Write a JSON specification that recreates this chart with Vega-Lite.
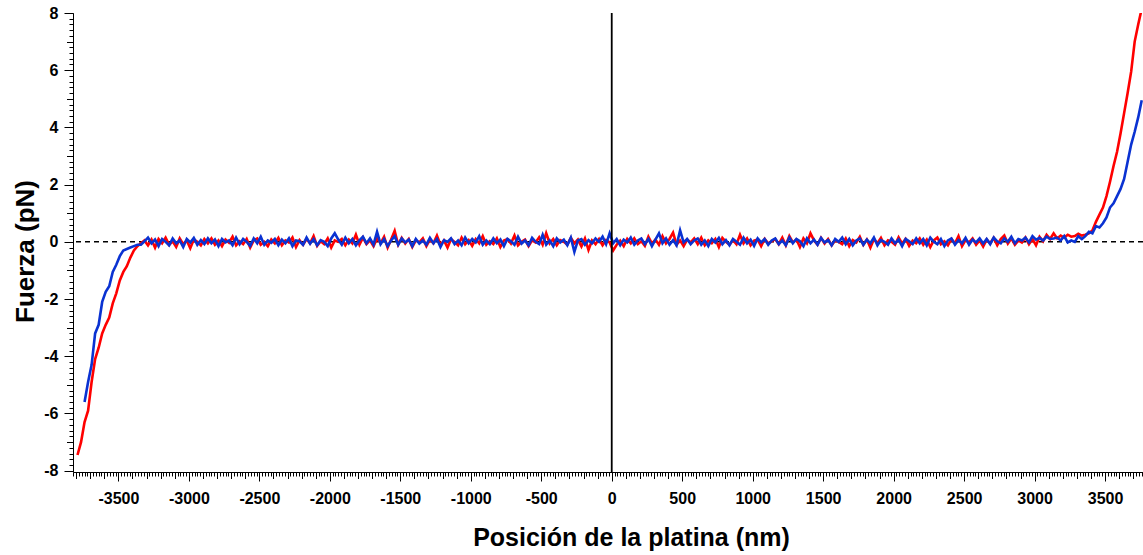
{
  "$schema": "https://vega.github.io/schema/vega-lite/v6.json",
  "width": 1070,
  "height": 459,
  "autosize": {"type": "none"},
  "padding": {"left": 73, "top": 13, "right": 0, "bottom": 83},
  "background": "white",
  "config": {
    "view": {"stroke": null},
    "font": "Liberation Sans",
    "axis": {
      "grid": false,
      "labelFont": "Liberation Sans",
      "titleFont": "Liberation Sans",
      "tickColor": "#000000",
      "domainColor": "#000000",
      "labelColor": "#000000",
      "titleColor": "#000000",
      "tickWidth": 1,
      "domainWidth": 1
    }
  },
  "data": {
    "values": [
      {"x": -3790, "r": -7.45},
      {"x": -3765, "r": -7.0},
      {"x": -3740, "r": -6.3, "b": -5.6},
      {"x": -3715, "r": -5.9, "b": -4.9},
      {"x": -3690, "r": -4.9, "b": -4.3},
      {"x": -3665, "r": -4.1, "b": -3.2},
      {"x": -3640, "r": -3.7, "b": -2.9},
      {"x": -3615, "r": -3.2, "b": -2.1},
      {"x": -3590, "r": -2.9, "b": -1.75},
      {"x": -3565, "r": -2.65, "b": -1.55},
      {"x": -3540, "r": -2.15, "b": -1.05},
      {"x": -3515, "r": -1.8, "b": -0.8},
      {"x": -3490, "r": -1.35, "b": -0.5},
      {"x": -3465, "r": -1.05, "b": -0.3},
      {"x": -3440, "r": -0.85, "b": -0.25},
      {"x": -3415, "r": -0.55, "b": -0.2},
      {"x": -3390, "r": -0.3, "b": -0.15},
      {"x": -3365, "r": -0.15, "b": -0.1},
      {"x": -3340, "r": -0.05, "b": -0.1},
      {"x": -3315, "r": 0.05, "b": 0.02},
      {"x": -3290, "r": -0.12, "b": 0.15},
      {"x": -3265, "r": 0.08, "b": -0.05},
      {"x": -3240, "r": -0.2, "b": 0.08},
      {"x": -3215, "r": 0.1, "b": -0.15},
      {"x": -3190, "r": -0.05, "b": 0.1},
      {"x": -3165, "r": 0.15, "b": 0},
      {"x": -3140, "r": -0.1, "b": -0.12},
      {"x": -3115, "r": 0.02, "b": 0.12},
      {"x": -3090, "r": -0.18, "b": -0.05},
      {"x": -3065, "r": 0.12, "b": 0.05},
      {"x": -3040, "r": -0.08, "b": -0.18},
      {"x": -3015, "r": 0.05, "b": 0.1},
      {"x": -2990, "r": -0.22, "b": -0.02},
      {"x": -2965, "r": 0.08, "b": 0.14},
      {"x": -2940, "r": 0, "b": -0.1},
      {"x": -2915, "r": -0.12, "b": 0.06},
      {"x": -2890, "r": 0.1, "b": -0.08},
      {"x": -2865, "r": -0.05, "b": 0.12},
      {"x": -2840, "r": 0.12, "b": -0.05},
      {"x": -2815, "r": -0.1, "b": 0.08},
      {"x": -2790, "r": 0.05, "b": -0.15},
      {"x": -2765, "r": -0.15, "b": 0.1},
      {"x": -2740, "r": 0.08, "b": -0.02},
      {"x": -2715, "r": -0.03, "b": 0.05},
      {"x": -2690, "r": 0.18, "b": -0.12},
      {"x": -2665, "r": -0.12, "b": 0.15},
      {"x": -2640, "r": 0.02, "b": -0.08},
      {"x": -2615, "r": -0.08, "b": 0.1},
      {"x": -2590, "r": 0.1, "b": 0},
      {"x": -2565, "r": -0.2, "b": -0.14},
      {"x": -2540, "r": 0.05, "b": 0.12},
      {"x": -2515, "r": 0.12, "b": -0.05},
      {"x": -2490, "r": -0.1, "b": 0.18},
      {"x": -2465, "r": 0, "b": -0.1},
      {"x": -2440, "r": -0.15, "b": 0.05},
      {"x": -2415, "r": 0.08, "b": -0.03},
      {"x": -2390, "r": -0.05, "b": 0.1},
      {"x": -2365, "r": 0.14, "b": -0.12},
      {"x": -2340, "r": -0.12, "b": 0.08},
      {"x": -2315, "r": 0.05, "b": -0.05},
      {"x": -2290, "r": -0.02, "b": 0.12},
      {"x": -2265, "r": 0.15, "b": -0.15},
      {"x": -2240, "r": -0.18, "b": 0.05},
      {"x": -2215, "r": 0.06, "b": 0.02},
      {"x": -2190, "r": -0.1, "b": -0.1},
      {"x": -2165, "r": 0.1, "b": 0.15},
      {"x": -2140, "r": -0.05, "b": -0.06},
      {"x": -2115, "r": 0.2, "b": 0.1},
      {"x": -2090, "r": -0.14, "b": -0.12},
      {"x": -2065, "r": 0.02, "b": 0.06},
      {"x": -2040, "r": -0.08, "b": 0},
      {"x": -2015, "r": 0.12, "b": -0.15},
      {"x": -1990, "r": -0.2, "b": 0.12},
      {"x": -1965, "r": 0.05, "b": 0.3},
      {"x": -1940, "r": 0, "b": 0.08},
      {"x": -1915, "r": 0.1, "b": -0.1},
      {"x": -1890, "r": -0.12, "b": 0.15},
      {"x": -1865, "r": 0.08, "b": -0.05},
      {"x": -1840, "r": -0.05, "b": 0.1},
      {"x": -1815, "r": 0.25, "b": -0.12},
      {"x": -1790, "r": -0.1, "b": 0.05},
      {"x": -1765, "r": 0.15, "b": 0.18},
      {"x": -1740, "r": -0.08, "b": -0.05},
      {"x": -1715, "r": 0.05, "b": 0.12},
      {"x": -1690, "r": -0.15, "b": -0.1},
      {"x": -1665, "r": 0.12, "b": 0.35},
      {"x": -1640, "r": -0.05, "b": -0.08},
      {"x": -1615, "r": 0.18, "b": 0.1},
      {"x": -1590, "r": -0.2, "b": -0.15},
      {"x": -1565, "r": 0.08, "b": 0.05},
      {"x": -1540, "r": 0.38, "b": 0.2},
      {"x": -1515, "r": -0.1, "b": -0.1},
      {"x": -1490, "r": 0.14, "b": 0.12},
      {"x": -1465, "r": -0.06, "b": -0.02},
      {"x": -1440, "r": 0.1, "b": 0.08},
      {"x": -1415, "r": -0.18, "b": -0.15},
      {"x": -1390, "r": 0.05, "b": 0.1},
      {"x": -1365, "r": -0.02, "b": -0.06},
      {"x": -1340, "r": 0.12, "b": 0.05},
      {"x": -1315, "r": -0.15, "b": -0.1},
      {"x": -1290, "r": 0.08, "b": 0.14},
      {"x": -1265, "r": -0.05, "b": -0.05},
      {"x": -1240, "r": 0.22, "b": 0.1},
      {"x": -1215, "r": -0.1, "b": -0.18},
      {"x": -1190, "r": 0.05, "b": 0.06},
      {"x": -1165, "r": -0.2, "b": 0},
      {"x": -1140, "r": 0.1, "b": 0.12},
      {"x": -1115, "r": 0, "b": -0.08},
      {"x": -1090, "r": -0.12, "b": 0.05},
      {"x": -1065, "r": 0.15, "b": -0.12},
      {"x": -1040, "r": -0.08, "b": 0.15},
      {"x": -1015, "r": 0.06, "b": -0.05},
      {"x": -990, "r": -0.14, "b": 0.1},
      {"x": -965, "r": 0.1, "b": -0.02},
      {"x": -940, "r": -0.05, "b": 0.2},
      {"x": -915, "r": 0.2, "b": -0.1},
      {"x": -890, "r": -0.1, "b": 0.05},
      {"x": -865, "r": 0.02, "b": -0.08},
      {"x": -840, "r": -0.08, "b": 0.12},
      {"x": -815, "r": 0.12, "b": -0.05},
      {"x": -790, "r": -0.18, "b": 0.08},
      {"x": -765, "r": 0.05, "b": -0.15},
      {"x": -740, "r": 0.1, "b": 0.1},
      {"x": -715, "r": -0.06, "b": 0.02},
      {"x": -690, "r": 0.22, "b": -0.1},
      {"x": -665, "r": -0.12, "b": 0.18},
      {"x": -640, "r": 0, "b": -0.06},
      {"x": -615, "r": 0.08, "b": 0.05},
      {"x": -590, "r": -0.15, "b": -0.12},
      {"x": -565, "r": 0.05, "b": 0.14},
      {"x": -540, "r": -0.02, "b": 0},
      {"x": -515, "r": 0.16, "b": -0.08},
      {"x": -490, "r": -0.1, "b": 0.25},
      {"x": -465, "r": 0.3, "b": -0.1},
      {"x": -440, "r": -0.05, "b": 0.05},
      {"x": -415, "r": 0.1, "b": -0.15},
      {"x": -390, "r": -0.12, "b": 0.12},
      {"x": -365, "r": 0.06, "b": -0.02},
      {"x": -340, "r": 0, "b": 0.08},
      {"x": -315, "r": -0.1, "b": -0.12},
      {"x": -290, "r": 0.14, "b": 0.15},
      {"x": -265, "r": -0.05, "b": -0.35},
      {"x": -240, "r": 0.08, "b": 0.05},
      {"x": -215, "r": -0.16, "b": 0.1},
      {"x": -190, "r": 0.12, "b": -0.1},
      {"x": -165, "r": -0.28, "b": 0.06},
      {"x": -140, "r": 0.05, "b": -0.05},
      {"x": -115, "r": -0.08, "b": 0.12},
      {"x": -90, "r": 0.1, "b": 0},
      {"x": -65, "r": -0.12, "b": 0.18},
      {"x": -40, "r": 0.06, "b": -0.08},
      {"x": -15, "r": -0.02, "b": 0.3},
      {"x": 10, "r": -0.3, "b": -0.05},
      {"x": 35, "r": -0.1, "b": 0.1},
      {"x": 60, "r": 0.04, "b": -0.12},
      {"x": 85, "r": -0.15, "b": 0.08},
      {"x": 110, "r": 0.1, "b": -0.02},
      {"x": 135, "r": -0.05, "b": 0.15},
      {"x": 160, "r": 0.12, "b": -0.1},
      {"x": 185, "r": -0.08, "b": 0.05},
      {"x": 210, "r": 0.02, "b": 0.12},
      {"x": 235, "r": -0.14, "b": -0.08},
      {"x": 260, "r": 0.18, "b": 0.1},
      {"x": 285, "r": -0.06, "b": -0.15},
      {"x": 310, "r": 0.08, "b": 0.08},
      {"x": 335, "r": -0.1, "b": 0.3},
      {"x": 360, "r": 0.2, "b": -0.05},
      {"x": 385, "r": -0.05, "b": 0.12},
      {"x": 410, "r": 0.1, "b": -0.1},
      {"x": 435, "r": 0.32, "b": 0.06},
      {"x": 460, "r": -0.1, "b": -0.12},
      {"x": 485, "r": 0.05, "b": 0.4},
      {"x": 510, "r": -0.15, "b": -0.02},
      {"x": 535, "r": 0.08, "b": 0.1},
      {"x": 560, "r": -0.02, "b": -0.08},
      {"x": 585, "r": 0.12, "b": 0.05},
      {"x": 610, "r": -0.08, "b": 0.12},
      {"x": 635, "r": 0.15, "b": -0.1},
      {"x": 660, "r": -0.12, "b": 0.05},
      {"x": 685, "r": 0.05, "b": -0.15},
      {"x": 710, "r": -0.05, "b": 0.1},
      {"x": 735, "r": 0.1, "b": -0.02},
      {"x": 760, "r": -0.18, "b": 0.14},
      {"x": 785, "r": 0.14, "b": -0.08},
      {"x": 810, "r": 0, "b": 0.06},
      {"x": 835, "r": -0.1, "b": -0.12},
      {"x": 860, "r": 0.06, "b": 0.1},
      {"x": 885, "r": -0.08, "b": 0},
      {"x": 910, "r": 0.25, "b": -0.1},
      {"x": 935, "r": -0.05, "b": 0.15},
      {"x": 960, "r": 0.12, "b": -0.05},
      {"x": 985, "r": -0.12, "b": 0.08},
      {"x": 1010, "r": 0.04, "b": -0.14},
      {"x": 1035, "r": 0.08, "b": 0.12},
      {"x": 1060, "r": -0.15, "b": -0.02},
      {"x": 1085, "r": 0.1, "b": 0.1},
      {"x": 1110, "r": -0.05, "b": -0.1},
      {"x": 1135, "r": 0.02, "b": 0.05},
      {"x": 1160, "r": 0.1, "b": 0.12},
      {"x": 1185, "r": -0.08, "b": -0.08},
      {"x": 1210, "r": 0.15, "b": 0.05},
      {"x": 1235, "r": -0.12, "b": -0.12},
      {"x": 1260, "r": 0.2, "b": 0.15},
      {"x": 1285, "r": -0.02, "b": -0.05},
      {"x": 1310, "r": 0.08, "b": 0.1},
      {"x": 1335, "r": -0.18, "b": 0.02},
      {"x": 1360, "r": 0.12, "b": -0.15},
      {"x": 1385, "r": -0.05, "b": 0.12},
      {"x": 1410, "r": 0.3, "b": -0.05},
      {"x": 1435, "r": 0.05, "b": 0.08},
      {"x": 1460, "r": -0.1, "b": -0.1},
      {"x": 1485, "r": 0.14, "b": 0.14},
      {"x": 1510, "r": -0.06, "b": -0.02},
      {"x": 1535, "r": 0.1, "b": 0.06},
      {"x": 1560, "r": -0.12, "b": -0.12},
      {"x": 1585, "r": 0.05, "b": 0.1},
      {"x": 1610, "r": 0, "b": 0},
      {"x": 1635, "r": -0.08, "b": 0.15},
      {"x": 1660, "r": 0.12, "b": -0.08},
      {"x": 1685, "r": -0.15, "b": 0.1},
      {"x": 1710, "r": 0.06, "b": -0.12},
      {"x": 1735, "r": -0.02, "b": 0.05},
      {"x": 1760, "r": 0.18, "b": 0.12},
      {"x": 1785, "r": -0.1, "b": -0.1},
      {"x": 1810, "r": 0.08, "b": 0.08},
      {"x": 1835, "r": -0.2, "b": -0.05},
      {"x": 1860, "r": 0.1, "b": 0.15},
      {"x": 1885, "r": -0.05, "b": -0.12},
      {"x": 1910, "r": 0.14, "b": 0.06},
      {"x": 1935, "r": -0.12, "b": 0},
      {"x": 1960, "r": 0.05, "b": -0.1},
      {"x": 1985, "r": 0, "b": 0.12},
      {"x": 2010, "r": -0.1, "b": -0.05},
      {"x": 2035, "r": 0.16, "b": 0.08},
      {"x": 2060, "r": -0.06, "b": -0.15},
      {"x": 2085, "r": 0.1, "b": 0.1},
      {"x": 2110, "r": -0.14, "b": 0.02},
      {"x": 2135, "r": 0.04, "b": -0.08},
      {"x": 2160, "r": -0.05, "b": 0.12},
      {"x": 2185, "r": 0.12, "b": -0.05},
      {"x": 2210, "r": -0.1, "b": 0.1},
      {"x": 2235, "r": 0.08, "b": -0.12},
      {"x": 2260, "r": -0.18, "b": 0.15},
      {"x": 2285, "r": 0.05, "b": 0},
      {"x": 2310, "r": 0.15, "b": -0.08},
      {"x": 2335, "r": -0.08, "b": 0.1},
      {"x": 2360, "r": 0.02, "b": -0.15},
      {"x": 2385, "r": -0.12, "b": 0.05},
      {"x": 2410, "r": 0.1, "b": 0.12},
      {"x": 2435, "r": -0.05, "b": -0.1},
      {"x": 2460, "r": 0.2, "b": 0.06},
      {"x": 2485, "r": -0.15, "b": -0.05},
      {"x": 2510, "r": 0.06, "b": 0.14},
      {"x": 2535, "r": -0.02, "b": -0.1},
      {"x": 2560, "r": 0.12, "b": 0.08},
      {"x": 2585, "r": -0.1, "b": -0.02},
      {"x": 2610, "r": 0.05, "b": 0.12},
      {"x": 2635, "r": -0.16, "b": -0.06},
      {"x": 2660, "r": 0.08, "b": 0.1},
      {"x": 2685, "r": -0.05, "b": -0.08},
      {"x": 2710, "r": 0.14, "b": 0.15},
      {"x": 2735, "r": -0.12, "b": 0.02},
      {"x": 2760, "r": 0.1, "b": -0.05},
      {"x": 2785, "r": 0.22, "b": 0.12},
      {"x": 2810, "r": -0.06, "b": 0},
      {"x": 2835, "r": 0.12, "b": 0.18},
      {"x": 2860, "r": -0.1, "b": -0.05},
      {"x": 2885, "r": 0.05, "b": 0.1},
      {"x": 2910, "r": -0.02, "b": 0.05},
      {"x": 2935, "r": 0.15, "b": 0.15},
      {"x": 2960, "r": -0.08, "b": -0.02},
      {"x": 2985, "r": 0.1, "b": 0.2},
      {"x": 3010, "r": -0.12, "b": 0.08},
      {"x": 3035, "r": 0.18, "b": 0.14},
      {"x": 3060, "r": 0.02, "b": 0.05},
      {"x": 3085, "r": 0.25, "b": 0.18},
      {"x": 3110, "r": 0.1, "b": 0.1},
      {"x": 3135, "r": 0.3, "b": 0.12},
      {"x": 3160, "r": 0.12, "b": 0.15},
      {"x": 3185, "r": 0.22, "b": 0.05},
      {"x": 3210, "r": 0.15, "b": 0.2},
      {"x": 3235, "r": 0.25, "b": -0.02},
      {"x": 3260, "r": 0.18, "b": 0.05},
      {"x": 3285, "r": 0.2, "b": 0},
      {"x": 3310, "r": 0.28, "b": 0.2},
      {"x": 3335, "r": 0.22, "b": 0.1},
      {"x": 3360, "r": 0.25, "b": 0.2},
      {"x": 3385, "r": 0.3, "b": 0.35},
      {"x": 3410, "r": 0.4, "b": 0.3},
      {"x": 3435, "r": 0.7, "b": 0.55},
      {"x": 3460, "r": 0.95, "b": 0.5},
      {"x": 3485, "r": 1.2, "b": 0.65},
      {"x": 3510, "r": 1.6, "b": 0.85},
      {"x": 3535, "r": 2.1, "b": 1.2},
      {"x": 3560, "r": 2.65, "b": 1.35},
      {"x": 3585, "r": 3.15, "b": 1.6},
      {"x": 3610, "r": 3.8, "b": 1.85},
      {"x": 3635, "r": 4.5, "b": 2.2},
      {"x": 3660, "r": 5.2, "b": 2.8},
      {"x": 3685, "r": 5.95, "b": 3.4},
      {"x": 3710, "r": 7.0, "b": 3.85},
      {"x": 3735, "r": 7.6, "b": 4.35},
      {"x": 3760, "r": 8.15, "b": 4.95}
    ]
  },
  "resolve": {"axis": {"x": "independent", "y": "independent"}},
  "layer": [
    {
      "data": {"values": [{}]},
      "mark": {"type": "rule", "color": "#000000", "strokeWidth": 1.5, "strokeDash": [5, 4]},
      "encoding": {
        "y": {
          "datum": 0,
          "type": "quantitative",
          "scale": {"domain": [-8.045, 8], "nice": false, "zero": false},
          "axis": {
            "orient": "left",
            "values": [-8, -6, -4, -2, 0, 2, 4, 6, 8],
            "labelExpr": "datum.value + ''",
            "labelFontSize": 16,
            "labelFontWeight": "bold",
            "labelPadding": 6,
            "tickSize": 9,
            "domain": true,
            "labelOverlap": false,
            "labelFlush": false,
            "title": "Fuerza (pN)",
            "titleFontSize": 26,
            "titleFontWeight": "bold",
            "titleAngle": 270,
            "titleBaseline": "alphabetic",
            "titleAlign": "center",
            "titleX": -40,
            "titleY": 238
          }
        }
      }
    },
    {
      "mark": {"type": "line", "color": "#ff0000", "strokeWidth": 2.6, "clip": true},
      "encoding": {
        "x": {
          "field": "x",
          "type": "quantitative",
          "scale": {"domain": [-3822, 3769], "nice": false, "zero": false},
          "axis": {"orient": "bottom", "tickCount": 380, "labels": false, "domain": false, "tickSize": 4, "title": null}
        },
        "y": {
          "field": "r",
          "type": "quantitative",
          "scale": {"domain": [-8.045, 8], "nice": false, "zero": false},
          "axis": {"orient": "left", "tickCount": 80, "labels": false, "domain": false, "tickSize": 4, "title": null}
        }
      }
    },
    {
      "mark": {"type": "line", "color": "#0a32d2", "strokeWidth": 2.6, "clip": true},
      "encoding": {
        "x": {
          "field": "x",
          "type": "quantitative",
          "scale": {"domain": [-3822, 3769], "nice": false, "zero": false},
          "axis": {"orient": "bottom", "tickCount": 76, "labels": false, "domain": false, "tickSize": 6.5, "title": null}
        },
        "y": {
          "field": "b",
          "type": "quantitative",
          "scale": {"domain": [-8.045, 8], "nice": false, "zero": false},
          "axis": {"orient": "left", "values": [-7, -5, -3, -1, 1, 3, 5, 7], "labels": false, "domain": false, "tickSize": 6.5, "title": null}
        }
      }
    },
    {
      "data": {"values": [{}]},
      "mark": {"type": "rule", "color": "#000000", "strokeWidth": 1.8},
      "encoding": {
        "x": {
          "datum": 0,
          "type": "quantitative",
          "scale": {"domain": [-3822, 3769], "nice": false, "zero": false},
          "axis": {
            "orient": "bottom",
            "values": [-3500, -3000, -2500, -2000, -1500, -1000, -500, 0, 500, 1000, 1500, 2000, 2500, 3000, 3500],
            "labelExpr": "datum.value + ''",
            "labelFontSize": 16,
            "labelFontWeight": "bold",
            "labelPadding": 9,
            "tickSize": 9,
            "domain": true,
            "labelOverlap": false,
            "labelFlush": false,
            "title": "Posición de la platina (nm)",
            "titleFontSize": 25,
            "titleFontWeight": "bold",
            "titleBaseline": "alphabetic",
            "titleAlign": "center",
            "titleX": 558,
            "titleY": 73
          }
        }
      }
    }
  ]
}
